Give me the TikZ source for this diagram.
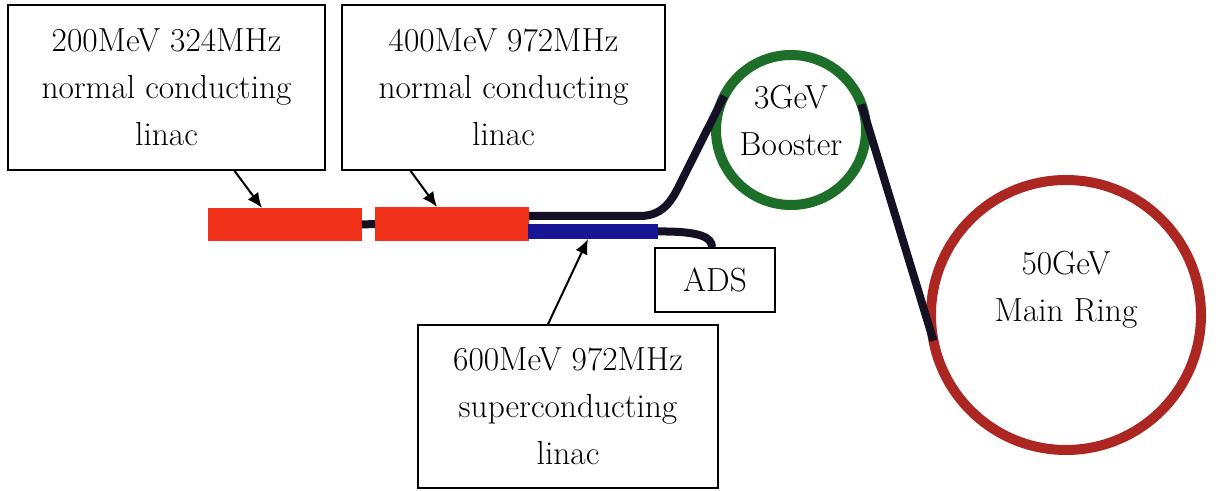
\documentclass[tikz,border=0pt]{standalone}
\usetikzlibrary{arrows.meta,positioning,calc}
\definecolor{jpRed}{RGB}{240,48,24}
\definecolor{jpBlue}{RGB}{22,22,150}
\definecolor{jpGreen}{RGB}{28,110,40}
\definecolor{jpRing}{RGB}{172,38,34}
\definecolor{jpLine}{RGB}{22,16,36}
\newcommand{\lblfont}{\fontsize{16.7}{23.5}\selectfont}

\begin{document}
\begin{tikzpicture}[x=0.5pt,y=-0.5pt,
  infobox/.style={rectangle, draw=black, line width=0.8pt,
                  align=center, font=\lblfont, inner sep=0pt},
  linacbar/.style={rectangle, fill=#1, inner sep=0pt, outer sep=0pt},
  ringnode/.style={circle, draw=#1, line width=5pt, inner sep=0pt,
                   outer sep=0pt},
  beam/.style={jpLine, line width=4pt},
  arr/.style={-{Latex[length=7.5pt,width=6.5pt]}, line width=1pt}
]
  \useasboundingbox (0,0) rectangle (1216,491);
  % labels
  \node[infobox, minimum width=158.5pt, minimum height=82.5pt]
    (box1) at (166.5,87.5) {200MeV 324MHz\\normal conducting\\linac};
  \node[infobox, minimum width=161.5pt, minimum height=82.5pt]
    (box2) at (503.5,87.5) {400MeV 972MHz\\normal conducting\\linac};
  \node[infobox, minimum width=150pt, minimum height=81.5pt]
    (box3) at (568,406.5) {600MeV 972MHz\\superconducting\\linac};
  \node[infobox, minimum width=60pt, minimum height=32pt]
    (ads) at (715,280) {ADS};
  % linacs
  \node[linacbar=jpRed, minimum width=77pt, minimum height=16.5pt]
    (linac1) at (285,224.5) {};
  \node[linacbar=jpRed, minimum width=77pt, minimum height=17pt]
    (linac2) at (452,224) {};
  \node[linacbar=jpBlue, minimum width=65pt, minimum height=7.5pt]
    (sclinac) at (593,231.5) {};
  % rings
  \node[ringnode=jpGreen, minimum size=75pt] (booster) at (791,130) {};
  \node[font=\lblfont, align=center] (boostertxt)
    at ($(booster)+(0,-10)$) {3GeV\\Booster};
  \node[ringnode=jpRing, minimum size=135pt] (mainring) at (1066,315) {};
  \node[font=\lblfont, align=center] (mainringtxt)
    at ($(mainring)+(0,-25)$) {50GeV\\Main Ring};
  % beam lines
  \draw[beam] (linac1.east) -- (linac2.west);
  \draw[beam] ($(linac2.east)+(0,-8)$) -- (640,216)
    .. controls (666,216) and (674,196) .. (683,178) -- (booster.153);
  \draw[beam] (sclinac.east) .. controls (702,231) and (712,238) ..
    ($(ads.north)+(-3,0)$);
  \draw[beam] (booster.20) -- (mainring.191);
  % arrows
  \draw[arr] ($(box1.south)+(68,0)$) -- ($(linac1.north)+(-23,0)$);
  \draw[arr] ($(box2.south)+(-93,0)$) -- ($(linac2.north)+(-15,0)$);
  \draw[arr] ($(box3.north)+(-20,0)$) -- ($(sclinac.south)+(-5,0)$);
\end{tikzpicture}
\end{document}
